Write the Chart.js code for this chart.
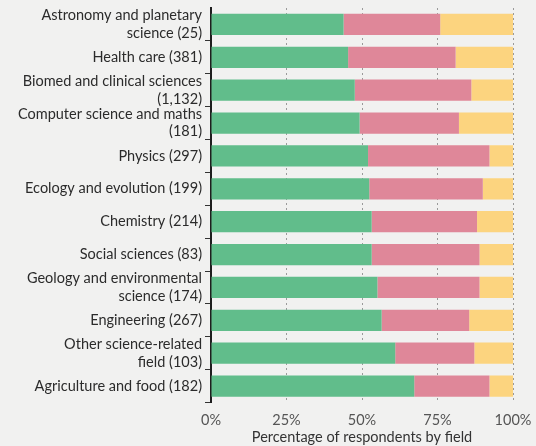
<!DOCTYPE html>
<html>
<head>
<meta charset="utf-8">
<script src="https://cdn.jsdelivr.net/npm/chart.js@4"></script>
<style>
	html, body { margin: 0; padding: 0; background: #f1f1f0; }
	#wrap { width: 536px; height: 446px; }
</style>
</head>
<body>
<div id="wrap"><canvas id="field-chart" width="536" height="446"></canvas></div>
<script>
// fields, with number of respondents
var fields = [
	['Astronomy and planetary', 'science (25)'],
	'Health care (381)',
	['Biomed and clinical sciences', '(1,132)'],
	['Computer science and maths', '(181)'],
	'Physics (297)',
	'Ecology and evolution (199)',
	'Chemistry (214)',
	'Social sciences (83)',
	['Geology and environmental', 'science (174)'],
	'Engineering (267)',
	['Other science-related', 'field (103)'],
	'Agriculture and food (182)'
];

// share of respondents (%) in each segment
var greenShare  = [43.9, 45.4, 47.6, 49.2, 52.0, 52.4, 53.2, 53.2, 55.1, 56.5, 61.0, 67.3];
var pinkShare   = [32.0, 35.6, 38.6, 32.9, 40.2, 37.6, 34.9, 35.7, 33.8, 29.0, 26.2, 24.9];
var yellowShare = [24.1, 19.0, 13.8, 17.9,  7.8, 10.0, 11.9, 11.1, 11.1, 14.5, 12.8,  7.8];

var xTicks = [0, 25, 50, 75, 100];

var labelFont = { family: 'Lato', size: 14.5 };

function segment(data, colour) {
	return {
		data: data,
		backgroundColor: colour,
		borderWidth: 0,
		categoryPercentage: 1,
		barPercentage: 0.65
	};
}

var ctx = document.getElementById('field-chart');
var myChart = new Chart(ctx, {
	type: 'bar',
	data: {
		labels: fields,
		datasets: [
			segment(greenShare, '#61bd8b'),
			segment(pinkShare, '#df8799'),
			segment(yellowShare, '#fcd47f')
		]
	},
	options: {
		indexAxis: 'y',
		responsive: false,
		animation: false,
		layout: { padding: { top: 8, right: 23, bottom: 0, left: 0 } },
		plugins: {
			legend: { display: false },
			tooltip: { enabled: false }
		},
		scales: {
			x: {
				stacked: true,
				min: 0,
				max: 100,
				afterBuildTicks: function (scale) {
					scale.ticks = xTicks.map(function (v) { return { value: v }; });
				},
				afterFit: function (scale) {
					scale.height = 43.5;
					scale.paddingLeft = 0;
					scale.paddingRight = 0;
				},
				ticks: {
					callback: function (v) { return v + '%'; },
					color: '#555',
					font: labelFont,
					padding: 9
				},
				grid: {
					drawTicks: false,
					color: function (c) { return c.tick && c.tick.value === 0 ? 'transparent' : '#9a9a9a'; },
					lineWidth: 1
				},
				border: { display: false, dash: [2, 3] },
				title: {
					display: true,
					text: 'Percentage of respondents by field',
					color: '#333',
					font: { family: 'Lato', size: 14.5 },
					padding: { top: 0, bottom: 0 }
				}
			},
			y: {
				stacked: true,
				afterFit: function (scale) {
					scale.width = 211;
					scale.paddingTop = 0;
					scale.paddingBottom = 0;
				},
				ticks: {
					autoSkip: false,
					color: '#2b2b2b',
					font: labelFont,
					padding: 3
				},
				grid: {
					drawOnChartArea: false,
					tickLength: 6,
					color: function (c) { return (c.index === 0) ? 'transparent' : '#333'; },
					lineWidth: 1
				},
				border: { display: true, color: '#1e1e1e', width: 2 }
			}
		}
	}
});
</script>
</body>
</html>
